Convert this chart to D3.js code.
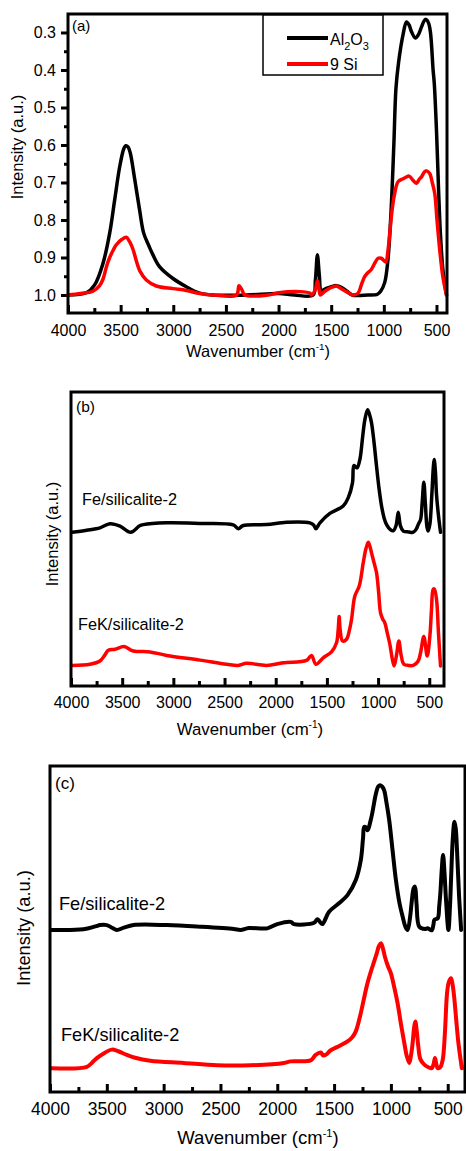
<!DOCTYPE html>
<html>
<head>
<meta charset="utf-8">
<script src="https://cdnjs.cloudflare.com/ajax/libs/d3/7.8.5/d3.min.js"></script>
<style>
  body { margin: 0; background: #fff; }
  svg { display: block; }
  text { font-family: "Liberation Sans", Arial, sans-serif; fill: #000; }
</style>
</head>
<body>
<svg id="chart" width="466" height="1151"></svg>
<script>
// ---- data: [wavenumber (cm-1), intensity] ----
// panel (a), intensity axis is inverted (0.3 on top)
var al2o3 = [[4000,1.0],[3826,0.994],[3747,0.973],[3667,0.915],[3604,0.835],[3557,0.747],[3509,0.658],
  [3470,0.61],[3452,0.602],[3430,0.605],[3408,0.622],[3367,0.69],[3319,0.775],[3281,0.835],[3230,0.87],
  [3193,0.893],[3129,0.925],[3003,0.956],[2876,0.978],[2749,0.995],[2623,1.0],[2300,1.0],[2000,0.996],
  [1850,1.0],[1672,1.0],[1650,0.96],[1631,0.893],[1612,0.95],[1594,0.987],[1540,0.982],[1500,0.978],
  [1450,0.975],[1400,0.98],[1350,0.99],[1300,1.0],[1150,1.0],[1060,0.998],[1030,0.99],[992,0.967],
  [961,0.906],[932,0.78],[905,0.6],[885,0.45],[860,0.38],[817,0.305],[785,0.272],[760,0.28],[737,0.298],
  [700,0.315],[670,0.305],[642,0.285],[615,0.268],[600,0.265],[575,0.275],[557,0.3],[532,0.4],[521,0.435],
  [500,0.56],[480,0.72],[463,0.835],[440,0.93],[421,0.972],[405,1.0]];
var si9 = [[4000,1.0],[3880,0.996],[3763,0.99],[3700,0.975],[3668,0.958],[3630,0.92],[3604,0.9],[3570,0.88],
  [3541,0.866],[3490,0.852],[3446,0.846],[3415,0.858],[3383,0.878],[3350,0.91],[3319,0.935],[3256,0.96],
  [3161,0.976],[3003,0.983],[2876,0.988],[2749,0.996],[2623,1.0],[2400,1.0],[2376,0.975],[2350,0.985],
  [2320,1.0],[2100,1.0],[2000,0.994],[1800,0.991],[1700,0.995],[1688,1.0],[1650,0.985],[1631,0.962],
  [1615,0.985],[1603,1.0],[1560,0.99],[1514,0.982],[1451,0.976],[1400,0.984],[1356,0.991],[1293,1.0],
  [1245,0.995],[1210,0.97],[1182,0.951],[1150,0.94],[1119,0.932],[1080,0.912],[1055,0.902],[1024,0.902],
  [983,0.912],[960,0.88],[944,0.836],[920,0.77],[897,0.729],[865,0.698],[817,0.69],[790,0.686],
  [760,0.683],[720,0.695],[690,0.702],[665,0.692],[642,0.685],[615,0.672],[595,0.669],[564,0.676],
  [540,0.7],[516,0.73],[495,0.8],[469,0.88],[440,0.95],[405,1.0]];

// panel (b), arbitrary units 0-100 (frame bottom to top)
var feB = [[3990,52.3],[3847,53.0],[3717,53.8],[3619,55.2],[3521,54.4],[3417,52.3],[3330,54.5],[3294,54.9],
  [3066,55.5],[2740,55.3],[2415,54.8],[2366,53.5],[2317,54.6],[2089,54.9],[1894,55.7],[1667,55.5],
  [1630,54.8],[1608,53.5],[1568,55.5],[1471,58.7],[1341,61.2],[1292,64.0],[1250,69.1],[1237,75.0],
  [1220,74.6],[1204,74.2],[1178,77.0],[1150,85.0],[1129,90.6],[1103,94.0],[1085,92.5],[1064,89.5],
  [1040,83.0],[1015,74.7],[990,67.0],[966,61.2],[940,57.0],[917,54.9],[880,53.2],[852,52.8],[825,54.5],
  [803,59.1],[782,54.5],[754,52.7],[700,52.4],[656,52.3],[625,53.5],[608,54.9],[585,56.6],[570,62.0],
  [553,69.3],[538,62.0],[522,54.0],[511,52.7],[494,55.0],[475,65.0],[460,74.5],[452,77.0],[440,73.0],
  [429,65.0],[410,58.0],[390,52.3]];
var fekB = [[3990,7.0],[3814,7.4],[3717,8.5],[3670,10.5],[3635,12.2],[3570,12.5],[3482,13.4],[3391,11.9],
  [3228,11.6],[3066,10.4],[2740,8.8],[2480,7.4],[2366,7.0],[2285,7.7],[2089,7.0],[1927,7.9],[1699,8.7],
  [1650,10.4],[1608,7.4],[1536,9.6],[1455,11.6],[1406,14.7],[1390,19.0],[1380,23.6],[1370,19.0],
  [1347,15.3],[1308,15.9],[1280,19.0],[1259,22.7],[1227,30.6],[1184,34.0],[1145,41.9],[1120,46.5],
  [1096,48.9],[1080,47.5],[1064,45.3],[1040,42.0],[1015,38.5],[995,32.0],[976,24.9],[955,22.8],
  [934,21.5],[910,18.0],[885,14.2],[860,9.0],[843,6.8],[820,10.5],[797,15.3],[775,10.5],[748,7.4],
  [700,7.0],[656,7.0],[608,8.5],[585,11.3],[553,16.8],[520,10.2],[494,17.0],[478,26.0],[462,32.8],
  [450,33.0],[429,29.4],[410,18.0],[390,6.8]];

// panel (c), arbitrary units 0-100 (frame bottom to top)
var feC = [[3985,49.7],[3706,49.9],[3600,50.8],[3559,51.2],[3500,51.2],[3450,50.3],[3412,49.7],[3350,50.4],
  [3265,51.2],[2971,51.2],[2676,50.7],[2382,50.0],[2324,49.7],[2250,50.3],[2088,50.2],[2000,51.5],
  [1882,52.2],[1853,51.5],[1676,51.9],[1647,53.0],[1625,52.2],[1603,51.5],[1544,55.3],[1460,57.8],
  [1382,60.4],[1309,65.0],[1265,71.1],[1245,78.0],[1235,81.3],[1220,81.2],[1206,80.3],[1171,84.4],
  [1132,91.5],[1110,93.8],[1094,94.1],[1075,93.6],[1059,92.5],[1040,89.0],[1015,83.4],[985,74.0],
  [956,65.0],[925,58.0],[897,53.8],[870,50.5],[853,49.7],[830,54.0],[818,58.0],[800,62.5],[788,63.0],
  [775,58.0],[750,50.7],[700,50.0],[676,50.2],[641,49.6],[625,51.5],[618,52.8],[588,53.3],[575,57.0],
  [565,60.9],[553,68.0],[541,72.7],[528,67.0],[515,58.9],[494,49.7],[480,57.0],[471,65.0],[455,78.0],
  [441,82.9],[430,81.0],[418,74.0],[400,60.0],[382,49.7]];
var fekC = [[3985,7.3],[3676,7.7],[3630,9.0],[3588,10.4],[3520,12.0],[3456,13.0],[3400,12.5],[3324,11.4],
  [3250,10.5],[3118,9.6],[2824,8.9],[2529,8.2],[2235,8.2],[1941,8.9],[1882,9.4],[1706,9.7],[1662,11.4],
  [1618,12.1],[1595,11.2],[1574,11.4],[1529,12.8],[1450,14.2],[1382,15.5],[1340,16.8],[1309,18.6],
  [1265,24.2],[1235,29.0],[1206,33.4],[1162,38.5],[1124,42.6],[1105,44.8],[1088,45.6],[1070,44.0],
  [1053,41.5],[1025,38.5],[1000,36.4],[970,32.0],[941,27.2],[910,20.5],[882,15.0],[860,11.0],[838,8.9],
  [822,11.5],[809,15.0],[795,20.0],[785,21.6],[772,18.5],[759,14.0],[740,10.0],[706,8.4],[670,7.6],
  [641,7.3],[625,8.5],[612,10.4],[600,8.5],[588,7.3],[565,7.6],[544,9.9],[525,18.0],[506,30.3],
  [490,33.8],[471,34.9],[455,32.5],[441,28.3],[425,22.0],[406,15.0],[376,7.3]];

var xMajor = [4000, 3500, 3000, 2500, 2000, 1500, 1000, 500];
var xMinor = [3750, 3250, 2750, 2250, 1750, 1250, 750];
var aYMajor = [0.3, 0.4, 0.5, 0.6, 0.7, 0.8, 0.9, 1.0];
var aYMinor = [0.35, 0.45, 0.55, 0.65, 0.75, 0.85, 0.95];

var svg = d3.select("#chart");
var red = "#ff0000";

function frameAndXAxis(g, x, y0, y1, fs, pad) {
  var xr = x.range();
  g.append("g")
    .attr("transform", "translate(0," + y1 + ")")
    .call(d3.axisBottom(x).tickValues(xMinor).tickSize(-5).tickFormat(""))
    .call(a => a.select(".domain").remove())
    .call(a => a.selectAll("line").attr("stroke-width", 3));
  g.append("g")
    .attr("transform", "translate(0," + y1 + ")")
    .call(d3.axisBottom(x).tickValues(xMajor).tickSize(-8).tickPadding(pad).tickFormat(d3.format("d")))
    .call(a => a.select(".domain").remove())
    .call(a => a.selectAll("line").attr("stroke-width", 3))
    .call(a => a.selectAll("text").attr("font-size", fs).attr("font-family", null));
  g.append("rect")
    .attr("x", xr[0]).attr("y", y0)
    .attr("width", xr[1] - xr[0]).attr("height", y1 - y0)
    .attr("fill", "none").attr("stroke", "#000").attr("stroke-width", 3);
}

function xTitle(g, cx, by, fs) {
  var t = g.append("text").attr("x", cx).attr("y", by).attr("text-anchor", "middle").attr("font-size", fs);
  t.append("tspan").text("Wavenumber (cm");
  t.append("tspan").text("-1").attr("font-size", fs * 0.6).attr("dy", -fs * 0.4);
  t.append("tspan").text(")").attr("dy", fs * 0.4);
}

function yTitle(g, cx, cy, fs) {
  g.append("text")
    .attr("transform", "translate(" + cx + "," + cy + ") rotate(-90)")
    .attr("text-anchor", "middle")
    .attr("dy", "0.35em")
    .attr("font-size", fs)
    .text("Intensity (a.u.)");
}

function curve(g, data, x, y, color, w) {
  var line = d3.line()
    .x(d => x(d[0]))
    .y(d => y(d[1]))
    .curve(d3.curveCatmullRom.alpha(0.5));
  g.append("path")
    .datum(data)
    .attr("fill", "none")
    .attr("stroke", color)
    .attr("stroke-width", w)
    .attr("stroke-linejoin", "round")
    .attr("stroke-linecap", "round")
    .attr("d", line);
}

// ---------------- panel (a) ----------------
function panelA() {
  var g = svg.append("g");
  var x = d3.scaleLinear().domain([4000, 400]).range([68, 447]);
  var y = d3.scaleLinear().domain([0.2507, 1.048]).range([14, 313]);

  g.append("g")
    .attr("transform", "translate(68,0)")
    .call(d3.axisLeft(y).tickValues(aYMinor).tickSize(4).tickFormat(""))
    .call(a => a.select(".domain").remove())
    .call(a => a.selectAll("line").attr("stroke-width", 3));
  g.append("g")
    .attr("transform", "translate(68,0)")
    .call(d3.axisLeft(y).tickValues(aYMajor).tickSize(7).tickPadding(5).tickFormat(d3.format(".1f")))
    .call(a => a.select(".domain").remove())
    .call(a => a.selectAll("line").attr("stroke-width", 3))
    .call(a => a.selectAll("text").attr("font-size", 16).attr("font-family", null));

  curve(g, al2o3, x, y, "#000", 3.5);
  curve(g, si9, x, y, red, 3.5);
  frameAndXAxis(g, x, 14, 313, 16, 11.5);

  g.append("text").attr("x", 72).attr("y", 31).attr("font-size", 15).text("(a)");

  // legend
  g.append("rect").attr("x", 263).attr("y", 15).attr("width", 120).attr("height", 60)
    .attr("fill", "#fff").attr("stroke", "#000").attr("stroke-width", 1.5);
  g.append("line").attr("x1", 287).attr("x2", 328).attr("y1", 38).attr("y2", 38)
    .attr("stroke", "#000").attr("stroke-width", 4);
  g.append("line").attr("x1", 287).attr("x2", 328).attr("y1", 64).attr("y2", 64)
    .attr("stroke", red).attr("stroke-width", 4);
  var t = g.append("text").attr("x", 330).attr("y", 45).attr("font-size", 16);
  t.append("tspan").text("Al");
  t.append("tspan").text("2").attr("font-size", 11).attr("dy", 5);
  t.append("tspan").text("O").attr("dy", -5);
  t.append("tspan").text("3").attr("font-size", 11).attr("dy", 5);
  g.append("text").attr("x", 330).attr("y", 70).attr("font-size", 16).text("9 Si");

  xTitle(g, 258, 357, 16.5);
  yTitle(g, 17, 147, 16.5);
}

// ---------------- panel (b) ----------------
function panelB() {
  var g = svg.append("g");
  var x = d3.scaleLinear().domain([4000, 356]).range([71, 444]);
  var y = d3.scaleLinear().domain([0, 100]).range([686, 392]);

  curve(g, feB, x, y, "#000", 3.5);
  curve(g, fekB, x, y, red, 3.5);
  frameAndXAxis(g, x, 392, 686, 16, 10.5);

  g.append("text").attr("x", 76).attr("y", 412).attr("font-size", 15.5).text("(b)");
  g.append("text").attr("x", 82).attr("y", 505).attr("font-size", 16.3).text("Fe/silicalite-2");
  g.append("text").attr("x", 78).attr("y", 630).attr("font-size", 16.3).text("FeK/silicalite-2");

  xTitle(g, 250, 735, 16.8);
  yTitle(g, 52, 534, 16.5);
}

// ---------------- panel (c) ----------------
function panelC() {
  var g = svg.append("g");
  var x = d3.scaleLinear().domain([4000, 348]).range([50, 465]);
  var y = d3.scaleLinear().domain([0, 100]).range([1092, 766]);

  curve(g, feC, x, y, "#000", 4);
  curve(g, fekC, x, y, red, 4);
  frameAndXAxis(g, x, 766, 1092, 17.5, 11);

  g.append("text").attr("x", 55).attr("y", 789).attr("font-size", 17).text("(c)");
  g.append("text").attr("x", 59).attr("y", 910).attr("font-size", 18.2).text("Fe/silicalite-2");
  g.append("text").attr("x", 61).attr("y", 1041).attr("font-size", 18.2).text("FeK/silicalite-2");

  xTitle(g, 258, 1144, 18.5);
  yTitle(g, 24, 928, 18.3);
}

panelA();
panelB();
panelC();
</script>
</body>
</html>
